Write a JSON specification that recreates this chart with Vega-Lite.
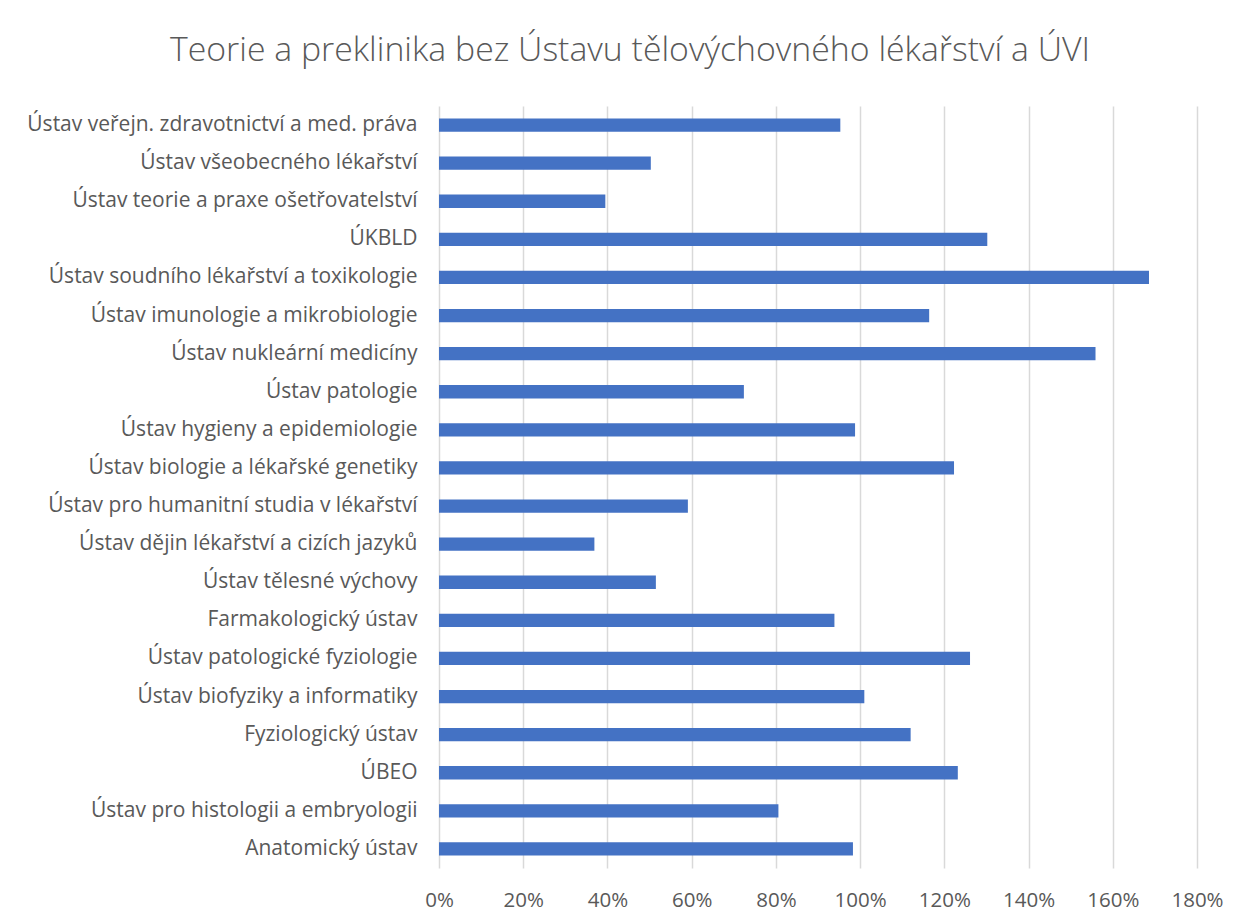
{
  "$schema": "https://vega.github.io/schema/vega-lite/v6.json",
  "autosize": {"type": "none"},
  "width": 758,
  "height": 762,
  "padding": {"left": 439, "top": 106, "right": 47, "bottom": 53},
  "background": "white",
  "title": {
    "text": "Teorie a preklinika bez Ústavu tělovýchovného lékařství a ÚVI",
    "font": "Open Sans",
    "fontWeight": 300,
    "fontSize": 33.8,
    "color": "#595959",
    "anchor": "middle",
    "frame": "group",
    "dx": -188,
    "offset": 38
  },
  "data": {
    "values": [
      {"ustav": "Ústav veřejn. zdravotnictví a med. práva", "hodnota": 0.953},
      {"ustav": "Ústav všeobecného lékařství", "hodnota": 0.503},
      {"ustav": "Ústav teorie a praxe ošetřovatelství", "hodnota": 0.395},
      {"ustav": "ÚKBLD", "hodnota": 1.302},
      {"ustav": "Ústav soudního lékařství a toxikologie", "hodnota": 1.686},
      {"ustav": "Ústav imunologie a mikrobiologie", "hodnota": 1.164},
      {"ustav": "Ústav nukleární medicíny", "hodnota": 1.559},
      {"ustav": "Ústav patologie", "hodnota": 0.724},
      {"ustav": "Ústav hygieny a epidemiologie", "hodnota": 0.988},
      {"ustav": "Ústav biologie a lékařské genetiky", "hodnota": 1.223},
      {"ustav": "Ústav pro humanitní studia v lékařství", "hodnota": 0.591},
      {"ustav": "Ústav dějin lékařství a cizích jazyků", "hodnota": 0.369},
      {"ustav": "Ústav tělesné výchovy", "hodnota": 0.515},
      {"ustav": "Farmakologický ústav", "hodnota": 0.939},
      {"ustav": "Ústav patologické fyziologie", "hodnota": 1.261},
      {"ustav": "Ústav biofyziky a informatiky", "hodnota": 1.010},
      {"ustav": "Fyziologický ústav", "hodnota": 1.120},
      {"ustav": "ÚBEO", "hodnota": 1.232},
      {"ustav": "Ústav pro histologii a embryologii", "hodnota": 0.806},
      {"ustav": "Anatomický ústav", "hodnota": 0.983}
    ]
  },
  "mark": {"type": "bar", "color": "#4472C4"},
  "encoding": {
    "y": {
      "field": "ustav",
      "type": "nominal",
      "sort": null,
      "scale": {"paddingInner": 0.65, "paddingOuter": 0.325},
      "axis": {
        "title": null,
        "ticks": false,
        "domain": false,
        "grid": false,
        "labelFont": "Open Sans",
        "labelFontSize": 21,
        "labelColor": "#595959",
        "labelPadding": 22,
        "labelLimit": 500
      }
    },
    "x": {
      "field": "hodnota",
      "type": "quantitative",
      "scale": {"domain": [0, 1.8], "nice": false},
      "axis": {
        "title": null,
        "values": [0, 0.2, 0.4, 0.6, 0.8, 1.0, 1.2, 1.4, 1.6, 1.8],
        "format": "%",
        "ticks": false,
        "domain": false,
        "grid": true,
        "gridColor": "#D9D9D9",
        "gridWidth": 1.5,
        "labelFlush": false,
        "labelFont": "Open Sans",
        "labelFontSize": 20.5,
        "labelColor": "#595959",
        "labelPadding": 22
      }
    }
  },
  "config": {
    "view": {"stroke": null}
  }
}
